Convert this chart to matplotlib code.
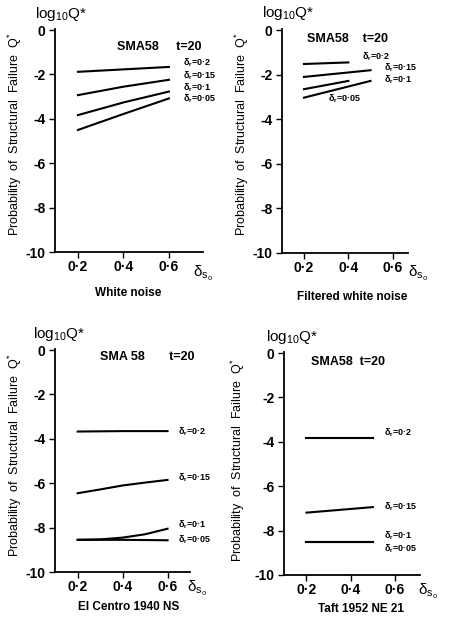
import matplotlib
matplotlib.use("Agg")
import matplotlib.pyplot as plt

plt.rcParams['font.family'] = ['Liberation Sans', 'DejaVu Sans']
plt.rcParams['mathtext.fontset'] = 'custom'
plt.rcParams['mathtext.rm'] = 'Liberation Sans'
plt.rcParams['mathtext.it'] = 'Liberation Sans'
plt.rcParams['mathtext.bf'] = 'Liberation Sans:bold'

# ---------------- data ----------------
# White noise
wn_x = [0.2, 0.4, 0.6]
wn_02 = [-1.88, -1.77, -1.66]
wn_015 = [-2.93, -2.55, -2.24]
wn_01 = [-3.83, -3.26, -2.77]
wn_005 = [-4.5, -3.78, -3.08]

# Filtered white noise
fw_x_02 = [0.2, 0.4]
fw_02 = [-1.52, -1.45]
fw_x_015 = [0.2, 0.5]
fw_015 = [-2.1, -1.8]
fw_x_01 = [0.2, 0.4]
fw_01 = [-2.65, -2.28]
fw_x_005 = [0.2, 0.5]
fw_005 = [-3.03, -2.28]

# El Centro 1940 NS
ec_x = [0.2, 0.3, 0.4, 0.5, 0.6]
ec_02 = [-3.67, -3.66, -3.65, -3.65, -3.65]
ec_015 = [-6.45, -6.28, -6.1, -5.97, -5.85]
ec_01 = [-8.55, -8.53, -8.45, -8.3, -8.05]
ec_005 = [-8.55, -8.55, -8.55, -8.56, -8.57]

# Taft 1952 NE 21
tf_x = [0.2, 0.5]
tf_02 = [-3.81, -3.81]
tf_015 = [-7.19, -6.94]
tf_01 = [-8.51, -8.51]
tf_005 = [-8.51, -8.51]

series_labels = ['0·2', '0·15', '0·1', '0·05']
x_ticks = [0.2, 0.4, 0.6]
x_ticklabels = ['0·2', '0·4', '0·6']
y_ticks = [0, -2, -4, -6, -8, -10]
y_ticklabels = ['0', '-2', '-4', '-6', '-8', '-10']
panel_names = ['White noise', 'Filtered white noise', 'El Centro 1940 NS', 'Taft 1952 NE 21']

W, H = 449, 620
fig = plt.figure(figsize=(W / 100, H / 100), dpi=100)


def px(x, y):
    return x / W, 1 - y / H


def make_ax(left, top, right, bottom, xlim):
    ax = fig.add_axes([left / W, 1 - bottom / H, (right - left) / W, (bottom - top) / H])
    ax.set_xlim(*xlim)
    ax.set_ylim(-10, 0.05)
    ax.spines['top'].set_visible(False)
    ax.spines['right'].set_visible(False)
    for s in ['left', 'bottom']:
        ax.spines[s].set_linewidth(1.3)
    ax.set_xticks(x_ticks)
    ax.set_xticklabels(x_ticklabels)
    ax.set_yticks(y_ticks)
    ax.set_yticklabels(y_ticklabels)
    ax.tick_params(direction='out', length=4, width=1.0, labelsize=10, pad=3)
    ax.tick_params(axis='x', pad=2)
    for lab in ax.get_xticklabels() + ax.get_yticklabels():
        lab.set_fontweight('bold')
    ax.patch.set_alpha(0)
    return ax


lw = 1.5
axes_spec = [
    (55, 29, 203, 252, (0.099, 0.75)),
    (282, 29, 408, 253, (0.101, 0.669)),
    (55, 349, 190, 572, (0.099, 0.70)),
    (284, 352, 420, 575, (0.0985, 0.713)),
]
axs = [make_ax(*s) for s in axes_spec]

ax = axs[0]
for y in [wn_02, wn_015, wn_01, wn_005]:
    ax.plot(wn_x, y, color='black', lw=lw)
ax = axs[1]
for x, y in [(fw_x_02, fw_02), (fw_x_015, fw_015), (fw_x_01, fw_01), (fw_x_005, fw_005)]:
    ax.plot(x, y, color='black', lw=lw)
ax = axs[2]
for y in [ec_02, ec_015, ec_01, ec_005]:
    ax.plot(ec_x, y, color='black', lw=lw)
ax = axs[3]
for y in [tf_02, tf_015, tf_01, tf_005]:
    ax.plot(tf_x, y, color='black', lw=lw)

# series labels (pixel positions)
lab_pos = [
    [(183, 63), (183, 76), (183, 88), (183, 99)],
    [(362, 57), (384, 68), (384, 80), (328, 99)],
    [(178, 432), (178, 478), (178, 525), (178, 540)],
    [(384, 433), (384, 507), (384, 536), (384, 549)],
]
for plist in lab_pos:
    for (x, y), s in zip(plist, series_labels):
        fig.text(*px(x, y), 'δ$_\\mathregular{r}$=' + s, fontsize=6.5, fontweight='bold',
                 ha='left', va='center')

# log10 Q* headers
for (x, y) in [(35, 14), (262, 13), (33, 334), (266, 337)]:
    fig.text(*px(x, y), 'log$_\\mathregular{10}$Q*', fontsize=11, ha='left', va='center')

# y labels
for (x, y) in [(15, 134), (242, 134), (15, 455), (238, 460)]:
    fig.text(*px(x, y), 'Probability  of  Structural  Failure  Q$^\\mathregular{*}$',
             fontsize=9, rotation=90, ha='center', va='center')

# SMA58 t=20
for (x, y, s) in [(117, 47, 'SMA58     t=20'), (307, 39, 'SMA58    t=20'),
                  (100, 357, 'SMA 58       t=20'), (311, 362, 'SMA58  t=20')]:
    fig.text(*px(x, y), s, fontsize=9, fontweight='bold', ha='left', va='center')

# delta_s0 labels
for (x, y) in [(193, 273), (408, 273), (187, 588), (418, 591)]:
    fig.text(*px(x, y), 'δ$_{\\mathregular{s}_\\mathregular{o}}$', fontsize=11, ha='left', va='center')

# panel names
for (x, y), s in zip([(128, 293), (352, 297), (129, 607), (361, 609)], panel_names):
    fig.text(*px(x, y), s, fontsize=8.5, fontweight='bold', ha='center', va='center')

fig.savefig('out.png', dpi=100)
